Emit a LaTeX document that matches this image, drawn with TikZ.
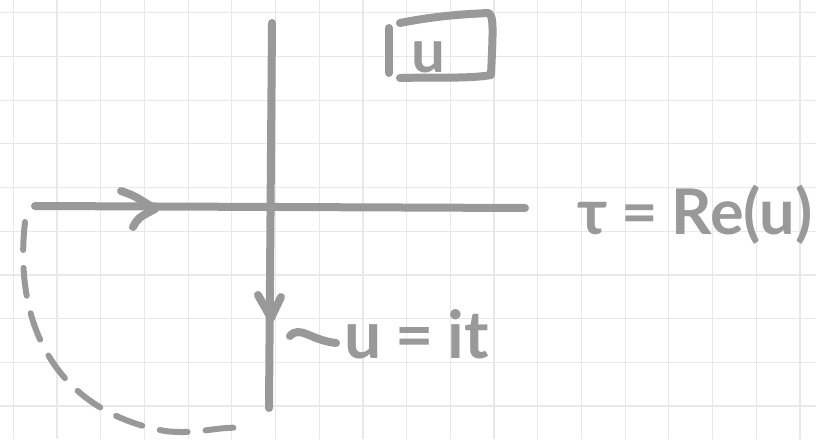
\documentclass[tikz,border=0pt]{standalone}
\usepackage{fontspec}
\newfontfamily\hand{Lato}
\begin{document}
\begin{tikzpicture}[x=1pt,y=-1pt,
  ink/.style={draw=inkgray,line width=8pt,line cap=round,line join=round},
  inktext/.style={text=inkgray,inner sep=0pt},
  gridline/.style={draw=gridgray,line width=1.2pt}]
\definecolor{inkgray}{HTML}{999999}
\definecolor{gridgray}{HTML}{E8E8E8}
\useasboundingbox (0,0) rectangle (816,439);
\fill[white] (0,0) rectangle (816,439);
% grid
\foreach \k in {0,...,18} {\draw[gridline] ({13.3+43.7*\k},0) -- ({13.3+43.7*\k},439);}
\foreach \k in {0,...,9} {\draw[gridline] (0,{12.7+43.7*\k}) -- (816,{12.7+43.7*\k});}
% axes
\coordinate (hl) at (35,206);
\coordinate (hr) at (525,208);
\coordinate (vt) at (272,23);
\coordinate (vb) at (269,408);
\draw[ink] (hl) -- (hr);
\draw[ink] (vt) -- (vb);
% arrow on horizontal axis
\coordinate (ha) at (155,209);
\draw[ink] (121,191) .. controls (135,196) .. (ha);
\draw[ink] (133,227) .. controls (138,218) .. (ha);
% arrow on vertical axis
\coordinate (va) at (271,318);
\draw[ink] (258,295) -- (va);
\draw[ink] (281,297) -- (va);
% dashed contour
\coordinate (ds) at (25,222);
\coordinate (de) at (240,428);
\draw[ink,line width=6pt,dash pattern=on 28pt off 18pt]
  (ds) .. controls (13,330) and (60,412) .. (165,431) .. controls (195,435) and (220,426) .. (de);
% boxed u
\draw[ink] (389,28) -- (389,73);
\draw[ink] (400,23) .. controls (440,15) and (470,14) .. (488,13) .. controls (494,14) and (493,30) .. (491,75) .. controls (470,79) and (430,77) .. (400,78);
\node[inktext,font=\hand\bfseries\fontsize{60}{60}\selectfont,anchor=base] (ulab) at (428,72) {u};
% tau = Re(u)
\node[inktext,font=\hand\bfseries\fontsize{63}{63}\selectfont,anchor=base west] (tau) at (577,234) {τ\hspace{14pt}=\hspace{14pt}Re(u)};
% u = it
\draw[ink] (290,336) .. controls (300,325) and (310,340) .. (336,343);
\node[inktext,font=\hand\bfseries\fontsize{66}{66}\selectfont,anchor=base west] (uit) at (344,358) {u\hspace{14pt}=\hspace{14pt}it};
\end{tikzpicture}
\end{document}
